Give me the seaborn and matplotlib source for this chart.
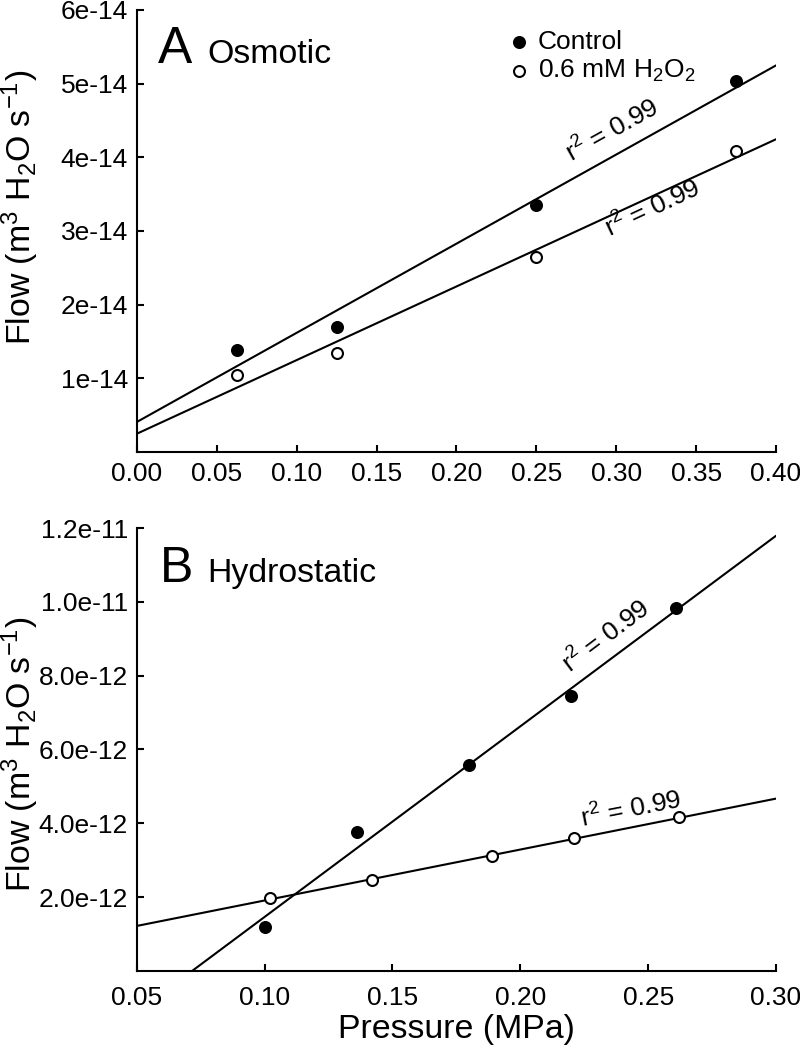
import matplotlib
matplotlib.use("Agg")
import matplotlib.pyplot as plt
import seaborn as sns

# Panel A - osmotic
osm_pressure = [0.0625, 0.125, 0.25, 0.375]
osm_control = [1.38e-14, 1.69e-14, 3.35e-14, 5.04e-14]
osm_h2o2 = [1.04e-14, 1.34e-14, 2.64e-14, 4.09e-14]

# Panel B - hydrostatic
hyd_p_control = [0.100, 0.136, 0.180, 0.220, 0.261]
hyd_control = [1.19e-12, 3.76e-12, 5.57e-12, 7.46e-12, 9.84e-12]
hyd_p_h2o2 = [0.102, 0.142, 0.189, 0.221, 0.262]
hyd_h2o2 = [1.97e-12, 2.46e-12, 3.11e-12, 3.59e-12, 4.16e-12]

osm_xticks = [0.0, 0.05, 0.10, 0.15, 0.20, 0.25, 0.30, 0.35, 0.40]
osm_xlabels = ["0.00", "0.05", "0.10", "0.15", "0.20", "0.25", "0.30", "0.35", "0.40"]
osm_yticks = [1e-14, 2e-14, 3e-14, 4e-14, 5e-14, 6e-14]
osm_ylabels = ["1e-14", "2e-14", "3e-14", "4e-14", "5e-14", "6e-14"]

hyd_xticks = [0.05, 0.10, 0.15, 0.20, 0.25, 0.30]
hyd_xlabels = ["0.05", "0.10", "0.15", "0.20", "0.25", "0.30"]
hyd_yticks = [2e-12, 4e-12, 6e-12, 8e-12, 1.0e-11, 1.2e-11]
hyd_ylabels = ["2.0e-12", "4.0e-12", "6.0e-12", "8.0e-12", "1.0e-11", "1.2e-11"]

sns.set_theme(style="ticks", rc={"text.color": "black", "axes.labelcolor": "black",
                                 "xtick.color": "black", "ytick.color": "black",
                                 "axes.edgecolor": "black"})
plt.rcParams['font.family'] = ['Liberation Sans', 'DejaVu Sans']
plt.rcParams['mathtext.default'] = 'regular'
plt.rcParams['axes.linewidth'] = 1.5

ylab = "Flow (m$^3$ H$_2$O s$^{-1}$)"
fs_tick = 19
fs_lab = 24.4


def panel(ax, xc, yc, xo, yo, xlim, ylim, xt, xtl, yt, ytl, xpad, ylab_y):
    ax.set_xlim(xlim)
    ax.set_ylim(ylim)
    sns.regplot(x=xc, y=yc, ax=ax, scatter=False, ci=None, truncate=False,
                color="black", line_kws=dict(lw=1.5))
    sns.regplot(x=xo, y=yo, ax=ax, scatter=False, ci=None, truncate=False,
                color="black", line_kws=dict(lw=1.5))
    sns.scatterplot(x=xc, y=yc, ax=ax, color="black", s=62, edgecolor="black",
                    linewidth=1.5, label="Control", zorder=5)
    sns.scatterplot(x=xo, y=yo, ax=ax, color="white", s=62, edgecolor="black",
                    linewidth=1.5, label="0.6 mM H$_2$O$_2$", zorder=5)
    ax.set_xlim(xlim)
    ax.set_ylim(ylim)
    ax.set_xticks(xt)
    ax.set_xticklabels(xtl)
    ax.set_yticks(yt)
    ax.set_yticklabels(ytl)
    ax.tick_params(direction="in", length=5, width=1.5, labelsize=fs_tick)
    ax.tick_params(axis="x", pad=xpad)
    ax.tick_params(axis="y", pad=6.5)
    sns.despine(ax=ax)
    ax.set_ylabel(ylab, fontsize=fs_lab)
    ax.yaxis.set_label_coords(-0.150, ylab_y)


fig = plt.figure(figsize=(8, 10.47), dpi=100)
ax1 = fig.add_axes([0.171, 0.5683, 0.799, 0.4222])
ax2 = fig.add_axes([0.171, 0.0726, 0.799, 0.4231])

panel(ax1, osm_pressure, osm_control, osm_pressure, osm_h2o2, (0, 0.4), (0, 6e-14),
      osm_xticks, osm_xlabels, osm_yticks, osm_ylabels, 7, 0.554)
panel(ax2, hyd_p_control, hyd_control, hyd_p_h2o2, hyd_h2o2, (0.05, 0.30), (0, 1.2e-11),
      hyd_xticks, hyd_xlabels, hyd_yticks, hyd_ylabels, 11, 0.488)

ax1.legend(loc="upper left", bbox_to_anchor=(0.586, 0.955), frameon=False,
           fontsize=fs_tick, handlelength=0.6, handletextpad=0.4,
           labelspacing=0.15, borderpad=0, borderaxespad=0)
ax2.get_legend().remove()

ax2.set_xlabel("Pressure (MPa)", fontsize=fs_lab, labelpad=3)

ax1.text(0.033, 0.880, "A", transform=ax1.transAxes, fontsize=37, va="baseline")
ax1.text(0.110, 0.880, "Osmotic", transform=ax1.transAxes, fontsize=fs_lab, va="baseline")
ax2.text(0.036, 0.878, "B", transform=ax2.transAxes, fontsize=36, va="baseline")
ax2.text(0.110, 0.878, "Hydrostatic", transform=ax2.transAxes, fontsize=fs_lab, va="baseline")

r2 = "r$^2$ = 0.99"
ax1.text(0.272, 3.92e-14, r2, rotation=29, rotation_mode="anchor",
         ha="left", va="baseline", fontsize=fs_tick)
ax1.text(0.296, 2.905e-14, r2, rotation=25, rotation_mode="anchor",
         ha="left", va="baseline", fontsize=fs_tick)
ax2.text(0.2195, 8.05e-12, r2, rotation=37, rotation_mode="anchor",
         ha="left", va="baseline", fontsize=fs_tick)
ax2.text(0.2242, 3.89e-12, r2, rotation=11, rotation_mode="anchor",
         ha="left", va="baseline", fontsize=fs_tick)

fig.savefig("out.png", dpi=100)
plt.close(fig)
